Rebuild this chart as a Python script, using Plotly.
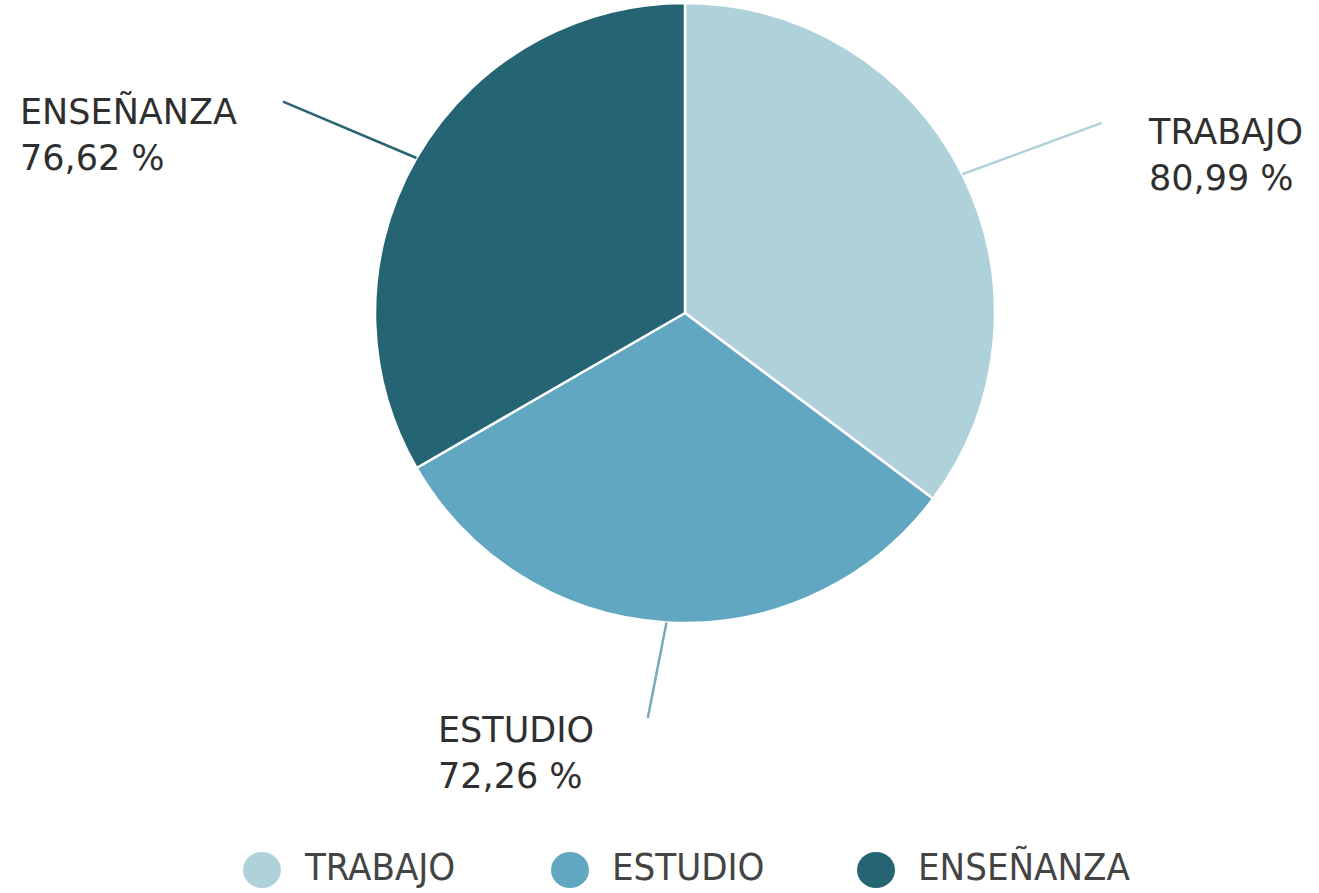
import math
import plotly.graph_objects as go

categories = ["TRABAJO", "ESTUDIO", "ENSEÑANZA"]
values = [80.99, 72.26, 76.62]
value_labels = ["80,99 %", "72,26 %", "76,62 %"]
colors = ["#aed1da", "#62a7c1", "#256473"]

W, H = 1319, 893
cx, cy, R = 685, 313, 310  # pie centre / radius in pixels

fig = go.Figure()
fig.add_trace(go.Pie(
    labels=categories, values=values, sort=False, direction="clockwise",
    marker=dict(colors=colors, line=dict(color="white", width=2.5)),
    textinfo="none", hoverinfo="label+value", showlegend=False,
    domain=dict(x=[(cx - R) / W, (cx + R) / W], y=[1 - (cy + R) / H, 1 - (cy - R) / H]),
))

# label layout (pixel offsets for leader line ends, text positions)
line_offsets = [(141, -52), (-19, 97), (-135, -57)]
text_pos = [(1146, 155), (436, 753), (18, 135)]
line_colors = ["#aed1da", "#7aa9ba", "#2b6373"]

total = sum(values)
start = 0.0
annotations = []
for i, v in enumerate(values):
    mid = (start + v / 2) / total * 2 * math.pi
    start += v
    ex = cx + R * math.sin(mid)
    ey = cy - R * math.cos(mid)
    annotations.append(dict(
        x=ex / W, y=1 - ey / H, xref="paper", yref="paper",
        ax=line_offsets[i][0], ay=line_offsets[i][1],
        text="", showarrow=True, arrowhead=0, arrowwidth=2.5,
        arrowcolor=line_colors[i], font=dict(size=1),
    ))
    annotations.append(dict(
        x=text_pos[i][0] / W, y=1 - text_pos[i][1] / H, xref="paper", yref="paper",
        xanchor="left", yanchor="middle", align="left", showarrow=False,
        text=f"{categories[i]}<br>{value_labels[i]}",
        font=dict(family="DejaVu Sans", size=35, color="#2f2f2f"),
    ))

# legend row
legend_x = [243, 551, 857]
legend_y = 870
shapes = []
for i, name in enumerate(categories):
    shapes.append(dict(
        type="circle", xref="paper", yref="paper", xsizemode="pixel", ysizemode="pixel",
        xanchor=legend_x[i] / W, yanchor=1 - legend_y / H,
        x0=0, x1=38, y0=-18, y1=18,
        fillcolor=colors[i], line=dict(width=0),
    ))
    annotations.append(dict(
        x=(legend_x[i] + 59) / W, y=1 - 867 / H, xref="paper", yref="paper",
        xanchor="left", yanchor="middle", showarrow=False, text=name,
        font=dict(family="DejaVu Sans Condensed, DejaVu Sans", size=38, color="#444444"),
    ))

fig.update_layout(
    width=W, height=H, margin=dict(l=0, r=0, t=0, b=0),
    paper_bgcolor="white", plot_bgcolor="white",
    annotations=annotations, shapes=shapes, showlegend=False,
)
fig.write_html("out.html", config={"displayModeBar": False},
               post_script="document.body.style.margin='0';document.body.style.overflow='hidden';")
